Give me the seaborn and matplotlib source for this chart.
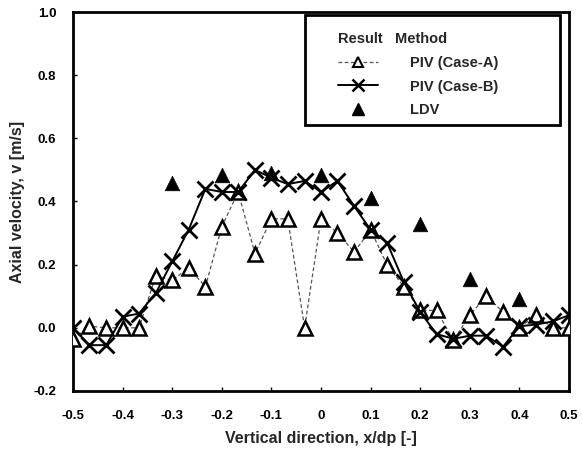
import numpy as np
import pandas as pd
import matplotlib
matplotlib.use("Agg")
import matplotlib.pyplot as plt
from matplotlib.lines import Line2D
from matplotlib.patches import Rectangle
import seaborn as sns

# Radial positions of the PIV measurement points, x/dp
x_piv = [-0.5, -0.467, -0.433, -0.4, -0.367, -0.333, -0.3, -0.267, -0.233, -0.2,
         -0.167, -0.133, -0.1, -0.067, -0.033, 0.0, 0.033, 0.067, 0.1, 0.133,
         0.167, 0.2, 0.233, 0.267, 0.3, 0.333, 0.367, 0.4, 0.433, 0.467, 0.5]

# Axial velocity, PIV Case-A [m/s]
v_case_a = [-0.035, 0.005, 0.0, 0.0, 0.0, 0.165, 0.15, 0.19, 0.13, 0.32,
            0.43, 0.235, 0.345, 0.345, 0.0, 0.345, 0.30, 0.24, 0.31, 0.20,
            0.13, 0.055, 0.055, -0.04, 0.04, 0.10, 0.05, 0.0, 0.04, 0.0, 0.0]

# Axial velocity, PIV Case-B [m/s]
v_case_b = [0.0, -0.055, -0.055, 0.035, 0.045, 0.11, 0.21, 0.31, 0.44, 0.43,
            0.43, 0.50, 0.475, 0.455, 0.465, 0.43, 0.465, 0.385, 0.31, 0.27,
            0.145, 0.05, -0.02, -0.035, -0.025, -0.025, -0.06, 0.005, 0.01, 0.02, 0.04]

# LDV measurements
x_ldv = [-0.3, -0.2, -0.1, 0.0, 0.1, 0.2, 0.3, 0.4]
v_ldv = [0.46, 0.485, 0.49, 0.485, 0.41, 0.33, 0.155, 0.09]

x_ticks = [-0.5, -0.4, -0.3, -0.2, -0.1, 0.0, 0.1, 0.2, 0.3, 0.4, 0.5]
x_tick_labels = ["-0.5", "-0.4", "-0.3", "-0.2", "-0.1", "0", "0.1", "0.2", "0.3", "0.4", "0.5"]
y_ticks = [-0.2, 0.0, 0.2, 0.4, 0.6, 0.8, 1.0]
y_tick_labels = ["-0.2", "0.0", "0.2", "0.4", "0.6", "0.8", "1.0"]

sns.set_style("ticks")
plt.rcParams["font.family"] = ["Liberation Sans", "DejaVu Sans"]
plt.rcParams["font.weight"] = "bold"

fig = plt.figure(figsize=(5.82, 4.53), dpi=100)
ax = fig.add_axes([0.1254, 0.137, 0.8523, 0.8365])

df_a = pd.DataFrame({"x": x_piv, "v": v_case_a})
df_b = pd.DataFrame({"x": x_piv, "v": v_case_b})
df_l = pd.DataFrame({"x": x_ldv, "v": v_ldv})

sns.lineplot(data=df_a, x="x", y="v", ax=ax, color="#555555", lw=0.9,
             linestyle=(0, (3, 2)), marker="^", markersize=10,
             markerfacecolor="white", markeredgecolor="black",
             markeredgewidth=1.8, zorder=3)
sns.lineplot(data=df_b, x="x", y="v", ax=ax, color="black", lw=1.4,
             marker="x", markersize=11, markeredgecolor="black",
             markeredgewidth=2.0, zorder=4)
sns.scatterplot(data=df_l, x="x", y="v", ax=ax, marker="^", s=110,
                color="black", edgecolor="black", linewidth=0.5, zorder=5)

ax.set_xlim(-0.5, 0.5)
ax.set_ylim(-0.2, 1.0)
ax.set_xticks(x_ticks)
ax.set_xticklabels(x_tick_labels)
ax.set_yticks(y_ticks)
ax.set_yticklabels(y_tick_labels)
ax.tick_params(axis="x", direction="in", length=3, width=1, labelsize=9.5, pad=14, colors="black")
ax.tick_params(axis="y", direction="in", length=3, width=1, labelsize=9.5, pad=12, colors="black")
for lab in ax.get_xticklabels() + ax.get_yticklabels():
    lab.set_fontweight("bold")
for sp in ax.spines.values():
    sp.set_visible(True)
    sp.set_linewidth(2.0)
    sp.set_color("black")

ax.set_xlabel("Vertical direction, x/dp [-]", fontsize=11.5, fontweight="bold", labelpad=6)
ax.set_ylabel("Axial velocity, v [m/s]", fontsize=11.5, fontweight="bold", labelpad=6)

# Legend box with a header row
ax.add_patch(Rectangle((0.468, 0.702), 0.514, 0.29, transform=ax.transAxes,
                       facecolor="white", edgecolor="black", lw=2.0, zorder=6))
handles = [
    Line2D([], [], color="#555555", lw=0.9, linestyle=(0, (3, 2)), marker="^",
           markersize=7, markerfacecolor="white", markeredgecolor="black",
           markeredgewidth=1.5),
    Line2D([], [], color="black", lw=1.4, marker="x", markersize=8,
           markeredgewidth=1.8),
    Line2D([], [], color="black", lw=0, marker="^", markersize=8),
]
labels = ["PIV (Case-A)", "PIV (Case-B)", "LDV"]
leg = ax.legend(handles, labels, loc="upper left", bbox_to_anchor=(0.535, 0.948),
                frameon=False, borderpad=0, borderaxespad=0,
                prop={"weight": "bold", "size": 10.5},
                handlelength=2.7, handletextpad=2.2, labelspacing=0.68,
                title="Result   Method",
                title_fontproperties={"weight": "bold", "size": 10.5})
leg._legend_box.align = "left"
leg.set_zorder(7)

fig.savefig("out.png", dpi=100)
